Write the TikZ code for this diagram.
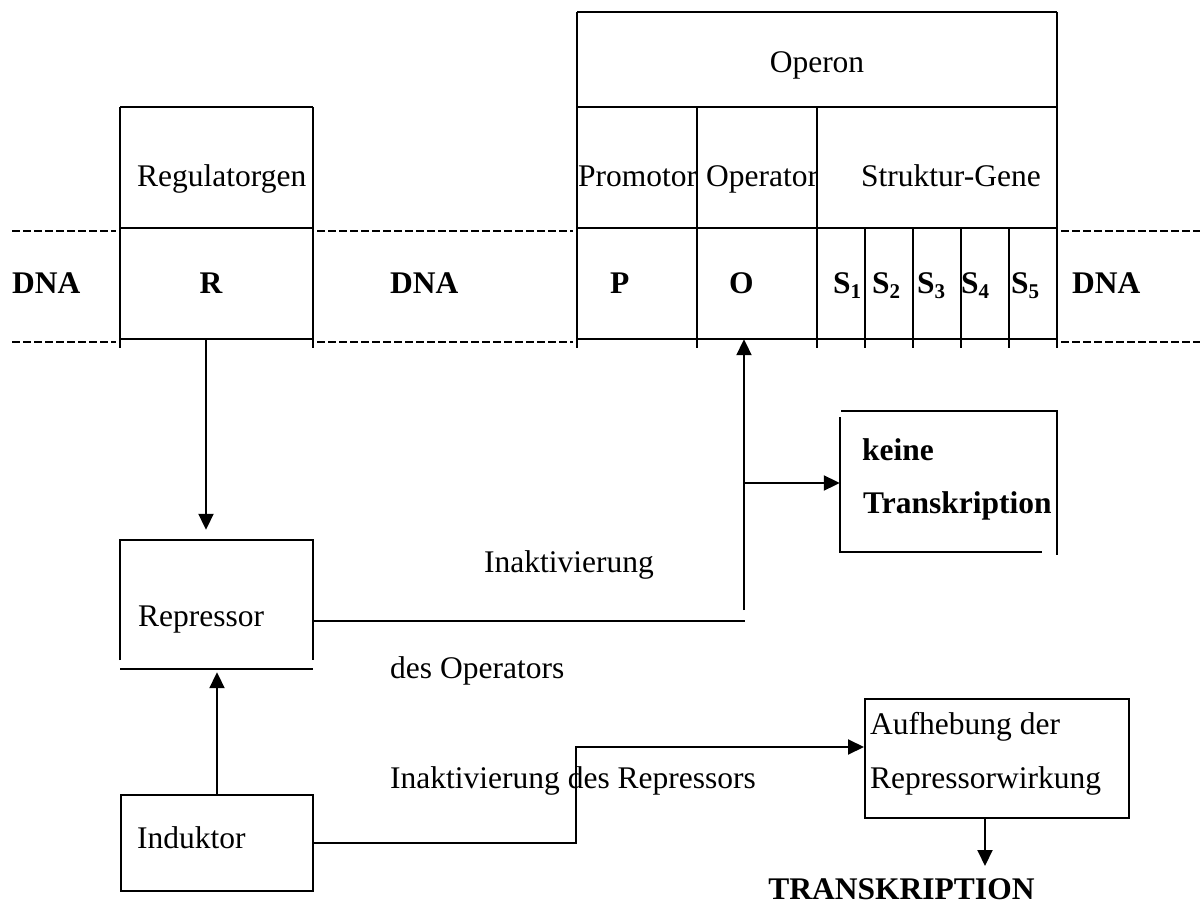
\documentclass[tikz,border=0pt]{standalone}
\usepackage{fontspec}
\setmainfont{Liberation Serif}
\usetikzlibrary{arrows.meta,calc}
\tikzset{
  ln/.style={line width=2pt},
  dnaline/.style={line width=1.6pt, dash pattern=on 7.5pt off 3.5pt},
  arr/.style={line width=2pt, -{Triangle[length=16pt,width=15pt]}},
  lbl/.style={inner sep=0pt, anchor=base west},
  blbl/.style={lbl, font=\fontsize{31.5}{36}\selectfont\bfseries},
  cell/.style={inner sep=0pt, draw=none},
  box/.style={draw, line width=2pt, inner sep=0pt},
}
\newcommand{\Sgene}[1]{\textbf{S}\raisebox{-4.5pt}{\fontsize{21}{21}\selectfont\textbf{#1}}}
\begin{document}
\begin{tikzpicture}[x=1pt, y=-1pt, font=\fontsize{31.5}{36}\selectfont]
\useasboundingbox (0,0) rectangle (1200,904);

% ---------- operon table and regulator gene ----------
\draw[ln] (577,12) -- (1057,12);
\draw[ln] (577,107) -- (1057,107);
\draw[ln] (577,228) -- (1057,228);
\draw[ln] (577,339) -- (1057,339);
\draw[ln] (120,107) -- (313,107);
\draw[ln] (120,228) -- (313,228);
\draw[ln] (120,339) -- (313,339);
\foreach \x in {120,313} \draw[ln] (\x,107) -- (\x,348);
\foreach \x in {577,1057} \draw[ln] (\x,12) -- (\x,348);
\foreach \x in {697,817} \draw[ln] (\x,107) -- (\x,348);
\foreach \x in {865,913,961,1009} \draw[ln] (\x,228) -- (\x,348);

% DNA dashed strands
\foreach \y in {231,342} {
  \draw[dnaline] (12,\y) -- (116,\y);
  \draw[dnaline] (317,\y) -- (573,\y);
  \draw[dnaline] (1061,\y) -- (1200,\y);
}

% invisible cells used as connector ends
\node[cell, minimum width=193pt, minimum height=111pt] (rcell) at (216.5,283.5) {};
\node[cell, minimum width=120pt, minimum height=111pt] (ocell) at (757,283.5) {};

% texts of the table
\node[lbl, anchor=base] (operon) at (817,73) {Operon};
\node[lbl] (regul) at (137,187) {Regulatorgen};
\node[lbl] (promot) at (578,187) {Promotor};
\node[lbl] (operat) at (706,187) {Operator};
\node[lbl] (struk) at (861,187) {Struktur-Gene};

\node[blbl] (dna1) at (12,294) {DNA};
\node[blbl, anchor=base] (rlab) at (211,294) {R};
\node[blbl] (dna2) at (390,294) {DNA};
\node[blbl] (plab) at (610,294) {P};
\node[blbl] (olab) at (729,294) {O};
\node[lbl] (s1) at (833,294) {\Sgene{1}};
\node[lbl] (s2) at (872,294) {\Sgene{2}};
\node[lbl] (s3) at (917,294) {\Sgene{3}};
\node[lbl] (s4) at (961,294) {\Sgene{4}};
\node[lbl] (s5) at (1011,294) {\Sgene{5}};
\node[blbl] (dna3) at (1072,294) {DNA};

% ---------- Repressor ----------
\node[cell, minimum width=193pt, minimum height=129pt] (rep) at (216.5,604.5) {};
\draw[ln] (120,660) |- (313,540) -- (313,660);
\draw[ln] (120,669) -- (313,669);
\node[lbl] (reptxt) at (138,626) {Repressor};

% ---------- keine Transkription ----------
\node[cell, minimum width=217pt, minimum height=142pt] (kt) at (948.5,482) {};
\draw[ln] (841,411) -- (1057,411) -- (1057,555);
\draw[ln] (840,417) -- (840,553);
\draw[ln] (840,552) -- (1042,552);
\node[blbl] (kt1) at (862,460) {keine};
\node[blbl] (kt2) at (863,513) {Transkription};

% ---------- Induktor & Aufhebung ----------
\node[box, minimum width=192pt, minimum height=96pt] (ind) at (217,843) {};
\node[lbl] (indtxt) at (137,848) {Induktor};
\node[box, minimum width=264pt, minimum height=119pt] (auf) at (997,758.5) {};
\node[lbl] (auf1) at (870,734) {Aufhebung der};
\node[lbl] (auf2) at (870,788) {Repressorwirkung};
\node[blbl, anchor=base] (tr) at (901.5,899) {TRANSKRIPTION};

% free labels
\node[lbl] (inakt1) at (484,572) {Inaktivierung};
\node[lbl] (desop) at (390,678) {des Operators};
\node[lbl] (inakt2) at (390,788) {Inaktivierung des Repressors};

% ---------- connectors ----------
\coordinate (j1) at (745,621);
\coordinate (j2) at (744,610);
\coordinate (j3) at (744,483);
\coordinate (k1) at (576,747);
\coordinate (a3) at (985,818);
\coordinate (a4) at (985,866);
\coordinate (repb) at ([yshift=-3pt]rep.south);

\draw[arr] ([xshift=-10.5pt]rcell.south) -- ([xshift=-10.5pt,yshift=10pt]rep.north);
\draw[arr] (ind.north) -- (ind.north |- repb);
\draw[ln] (rep.east |- j1) -- (j1);
\draw[arr] (j2) -- (j2 |- ocell.south);
\draw[arr] (j3) -- (j3 -| kt.west);
\draw[arr] (ind.east) -| (k1) -- (k1 -| auf.west);
\draw[arr] (a3) -- (a4);
\end{tikzpicture}
\end{document}
